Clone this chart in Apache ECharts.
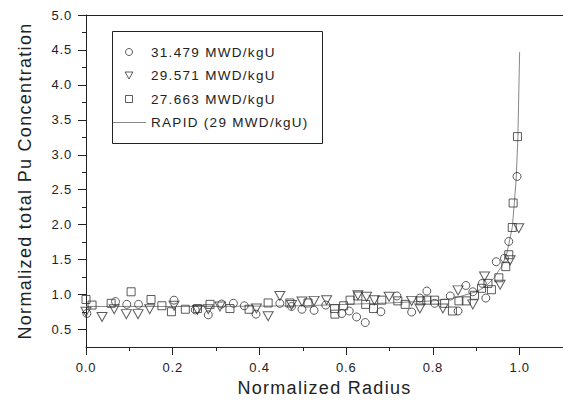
<!DOCTYPE html>
<html><head><meta charset="utf-8">
<script src="https://cdn.jsdelivr.net/npm/echarts@6/dist/echarts.min.js"></script>
<style>
html,body{margin:0;padding:0;background:#fff;}
#c{width:563px;height:404px;}
svg text{letter-spacing:0.8px;}
svg text[style*="18px"]{letter-spacing:1.3px;}
svg text[style*="13.5px"]{letter-spacing:1.3px;}
</style></head>
<body><div id="c"></div>
<script>
// ---- data ----
const seriesNames = ['31.479 MWD/kgU','29.571 MWD/kgU','27.663 MWD/kgU','RAPID (29 MWD/kgU)'];
const circleX = [0.002,0.068,0.094,0.121,0.203,0.252,0.282,0.313,0.340,0.365,0.392,0.447,0.474,0.498,0.526,0.553,0.590,0.607,0.624,0.644,0.680,0.717,0.751,0.770,0.786,0.804,0.840,0.858,0.876,0.892,0.914,0.922,0.946,0.965,0.975,0.994];
const circleY = [0.73,0.90,0.86,0.86,0.92,0.78,0.71,0.865,0.875,0.84,0.72,0.875,0.83,0.79,0.775,0.85,0.73,0.765,0.68,0.60,0.755,0.98,0.75,0.95,1.05,0.875,0.98,0.765,1.13,1.04,1.16,0.95,1.47,1.52,1.76,2.69];
const triX = [0.000,0.037,0.065,0.093,0.120,0.147,0.203,0.257,0.282,0.309,0.393,0.420,0.447,0.474,0.498,0.526,0.555,0.627,0.647,0.665,0.699,0.751,0.770,0.823,0.858,0.892,0.919,0.955,0.978,0.998];
const triY = [0.755,0.68,0.79,0.72,0.72,0.79,0.84,0.78,0.79,0.83,0.80,0.69,0.98,0.85,0.90,0.91,0.92,0.99,0.97,0.92,0.97,0.91,0.80,0.80,1.06,0.86,1.26,1.14,1.49,1.95];
const sqX = [0.000,0.014,0.058,0.104,0.150,0.175,0.197,0.229,0.257,0.286,0.332,0.376,0.420,0.470,0.512,0.573,0.574,0.594,0.609,0.627,0.645,0.663,0.682,0.719,0.736,0.772,0.786,0.804,0.827,0.845,0.860,0.877,0.896,0.912,0.927,0.935,0.952,0.968,0.975,0.983,0.985,0.995];
const sqY = [0.93,0.85,0.875,1.04,0.93,0.84,0.755,0.79,0.80,0.86,0.80,0.79,0.88,0.88,0.88,0.80,0.72,0.84,0.92,0.98,0.86,0.80,0.92,0.91,0.86,0.91,0.92,0.92,0.875,0.765,0.91,0.91,0.99,1.09,1.16,1.07,1.24,1.40,1.57,1.96,2.31,3.26];
const rapidX = [0,0.1,0.2,0.3,0.4,0.5,0.6,0.7,0.8,0.85,0.9,0.92,0.94,0.96,0.97,0.975,0.983,0.987,0.992,0.996,1.0];
const rapidY = [0.83,0.83,0.83,0.83,0.835,0.84,0.86,0.88,0.91,0.95,1.04,1.11,1.23,1.42,1.58,1.72,1.96,2.25,2.65,3.25,4.47];
const xMajorTicks = [0,0.2,0.4,0.6,0.8,1.0];
const xMinorTicks = [0.1,0.3,0.5,0.7,0.9];
const yMajorTicks = [0.5,1.0,1.5,2.0,2.5,3.0,3.5,4.0,4.5,5.0];
const yMinorTicks = [0.75,1.25,1.75,2.25,2.75,3.25,3.75,4.25,4.75];
const xTitle = 'Normalized Radius';
const yTitle = 'Normalized total Pu Concentration';

const zip = (a,b)=>a.map((v,i)=>[v,b[i]]);
const FONT = "'Liberation Sans', Arial, Helvetica, sans-serif";
const AX = '#222';
const DOWN_TRI = 'path://M0,0L10,0L5,9Z';
const SQUARE = 'path://M0,0L8,0L8,8L0,8Z';
const chart = echarts.init(document.getElementById('c'), null, {renderer:'svg'});
const markStyle = {color:'rgba(0,0,0,0)', borderColor:'#333', borderWidth:1};
const xBase = {min:0, max:1.1, type:'value', splitLine:{show:false}};
const yBase = {min:0.25, max:5.0, type:'value', splitLine:{show:false}};
chart.setOption({
  animation:false,
  textStyle:{fontFamily:FONT},
  grid:{left:86, right:0, top:15, bottom:57},
  graphic:[{type:'rect', shape:{x:112.5,y:31.5,width:210,height:112}, style:{fill:'none', stroke:AX, lineWidth:1}, z:10}],
  legend:{
    data:[{name:seriesNames[0]},{name:seriesNames[1]},{name:seriesNames[2], icon:SQUARE},
          {name:seriesNames[3], icon:'path://M0,0L38,0L38,1L0,1Z'}],
    orient:'vertical', left:112, top:45, padding:0, itemWidth:34, itemHeight:7, itemGap:9.5, itemTextGap:7,
    textStyle:{fontSize:13.5, color:AX, fontFamily:FONT, lineHeight:14}, itemStyle:{borderWidth:1}
  },
  xAxis:[
    Object.assign({}, xBase, {position:'bottom', name:xTitle, nameLocation:'middle', nameGap:30,
      nameTextStyle:{fontSize:18, color:AX, fontFamily:FONT},
      axisLine:{onZero:false, lineStyle:{color:AX, width:1}},
      axisTick:{customValues:xMajorTicks, length:8, lineStyle:{color:AX}},
      axisLabel:{customValues:xMajorTicks, margin:14, fontSize:13, color:AX, fontFamily:FONT, formatter:v=>v.toFixed(1)}}),
    Object.assign({}, xBase, {position:'bottom', axisLine:{show:false},
      axisTick:{customValues:xMinorTicks, length:4, lineStyle:{color:AX}}, axisLabel:{show:false}}),
    Object.assign({}, xBase, {position:'top', axisLine:{onZero:false, lineStyle:{color:AX, width:1}}, axisTick:{show:false}, axisLabel:{show:false}})
  ],
  yAxis:[
    Object.assign({}, yBase, {position:'left', name:yTitle, nameLocation:'middle', nameGap:52, nameRotate:90,
      nameTextStyle:{fontSize:18, color:AX, fontFamily:FONT},
      axisLine:{show:true, onZero:false, lineStyle:{color:AX, width:1}},
      axisTick:{show:true, customValues:yMajorTicks, length:8, lineStyle:{color:AX}},
      axisLabel:{customValues:yMajorTicks, margin:14, fontSize:13, color:AX, fontFamily:FONT, formatter:v=>v.toFixed(1)}}),
    Object.assign({}, yBase, {position:'left', axisLine:{show:false},
      axisTick:{show:true, customValues:yMinorTicks, length:4, lineStyle:{color:AX}}, axisLabel:{show:false}})
  ],
  series:[
    {name:seriesNames[0], type:'scatter', data:zip(circleX,circleY), symbol:'circle', symbolSize:8, itemStyle:markStyle, z:3},
    {name:seriesNames[1], type:'scatter', data:zip(triX,triY), symbol:DOWN_TRI, symbolSize:[10,9], itemStyle:markStyle, z:3},
    {name:seriesNames[2], type:'scatter', data:zip(sqX,sqY), symbol:SQUARE, symbolSize:8, itemStyle:markStyle, z:3},
    {name:seriesNames[3], type:'line', data:zip(rapidX,rapidY), showSymbol:false, symbol:'none', smooth:false,
     lineStyle:{color:'#888', width:1}, itemStyle:{color:'#888'}, z:2}
  ]
});
</script></body></html>
